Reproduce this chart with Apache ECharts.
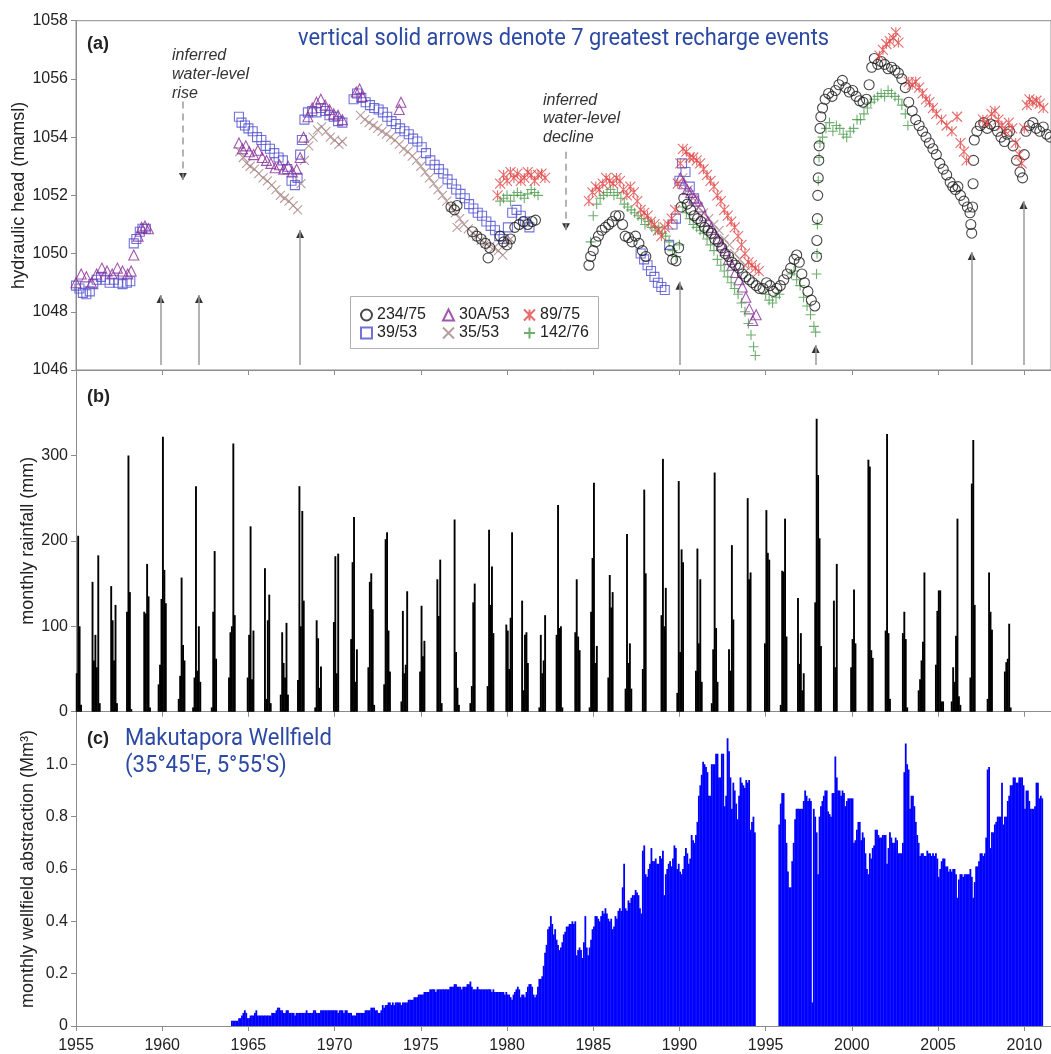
<!DOCTYPE html>
<html><head><meta charset="utf-8">
<script src="https://cdn.jsdelivr.net/npm/echarts@6/dist/echarts.min.js"></script>
<style>html,body{margin:0;padding:0;background:#fff}#c{width:1051px;height:1054px}</style>
</head><body><div id="c"></div>
<script>
// ---------- panel (a): hydraulic head (mamsl) ----------
const well39_53 = [
[1955.0,1048.9],[1955.2,1048.8],[1955.4,1048.65],[1955.6,1048.6],[1955.8,1048.7],[1956.0,1048.95],[1956.2,1049.1],[1956.45,1049.2],[1956.7,1049.1],[1956.95,1049.0],[1957.2,1049.1],[1957.45,1049.0],[1957.7,1048.95],[1957.95,1049.0],[1958.15,1049.05],[1958.35,1050.35],[1958.5,1050.5],[1958.7,1050.75],[1958.85,1050.85],[1959.05,1050.85],
[1964.45,1054.7],[1964.6,1054.5],[1964.8,1054.4],[1965.0,1054.3],[1965.25,1054.2],[1965.5,1054.0],[1965.75,1053.9],[1966.0,1053.7],[1966.25,1053.6],[1966.5,1053.45],[1966.75,1053.3],[1967.0,1053.2],[1967.25,1052.9],[1967.5,1052.5],[1967.7,1052.35],[1967.85,1052.6],[1968.0,1053.4],[1968.1,1053.9],[1968.25,1054.6],[1968.45,1054.85],[1968.7,1054.9],[1968.95,1054.85],[1969.2,1055.0],[1969.45,1054.9],[1969.7,1054.75],[1969.95,1054.7],[1970.2,1054.55],[1970.45,1054.5],
[1971.1,1055.3],[1971.3,1055.5],[1971.55,1055.35],[1971.8,1055.2],[1972.05,1055.1],[1972.3,1055.0],[1972.55,1054.95],[1972.8,1054.85],[1973.05,1054.7],[1973.3,1054.55],[1973.55,1054.45],[1973.8,1054.3],[1974.05,1054.2],[1974.3,1054.1],[1974.55,1053.95],[1974.8,1053.85],[1975.05,1053.65],[1975.3,1053.45],[1975.55,1053.2],[1975.8,1053.05],[1976.05,1052.9],[1976.3,1052.75],[1976.55,1052.55],[1976.8,1052.4],[1977.05,1052.2],[1977.3,1052.05],[1977.55,1051.9],[1977.8,1051.7],[1978.05,1051.55],[1978.3,1051.4],[1978.55,1051.3],[1978.8,1051.1],[1979.05,1050.95],[1979.3,1050.8],[1979.55,1050.6],[1979.8,1050.5],[1980.05,1050.9],[1980.3,1051.4],[1980.55,1051.5],[1980.8,1051.3],[1981.05,1051.1],[1981.3,1050.9],
[1987.75,1050.0],[1987.95,1049.8],[1988.15,1049.6],[1988.35,1049.4],[1988.55,1049.2],[1988.75,1049.0],[1988.95,1048.85],[1989.15,1048.75],[1989.4,1050.3],[1989.6,1051.0],[1989.8,1051.2],[1990.0,1052.5],[1990.15,1053.1],[1990.35,1052.8],[1990.6,1052.3],[1990.85,1051.9]
];
const well30A_53 = [
[1955.0,1049.0],[1955.3,1049.3],[1955.6,1049.2],[1955.9,1049.0],[1956.2,1049.3],[1956.5,1049.5],[1956.8,1049.4],[1957.1,1049.3],[1957.4,1049.5],[1957.7,1049.4],[1958.0,1049.3],[1958.2,1049.4],[1958.35,1049.95],[1958.6,1050.6],[1958.8,1050.9],[1959.0,1050.95],[1959.2,1050.85],
[1964.45,1053.8],[1964.65,1053.6],[1964.85,1053.7],[1965.05,1053.5],[1965.3,1053.4],[1965.55,1053.55],[1965.8,1053.3],[1966.05,1053.2],[1966.3,1053.1],[1966.55,1052.95],[1966.8,1053.05],[1967.05,1052.9],[1967.3,1053.0],[1967.55,1052.8],[1967.8,1052.9],[1968.0,1053.3],[1968.2,1054.0],[1968.45,1054.7],[1968.7,1055.0],[1968.95,1055.2],[1969.2,1055.3],[1969.45,1055.1],[1969.7,1054.95],[1969.95,1054.8],[1970.2,1054.75],[1970.45,1054.6],
[1971.25,1055.55],[1971.45,1055.65],[1971.6,1055.4],[1973.75,1054.95],[1973.85,1055.2],
[1990.05,1052.6],[1990.25,1052.4],[1990.45,1052.2],[1990.65,1052.1],[1990.85,1051.9],[1991.05,1051.8],[1991.25,1051.6],[1991.45,1051.3],[1991.65,1051.1],[1991.85,1050.9],[1992.05,1050.7],[1992.25,1050.5],[1992.45,1050.3],[1992.65,1050.1],[1992.85,1049.8],[1993.05,1049.6],[1993.25,1049.35],[1993.45,1049.1],[1993.65,1048.85],[1993.85,1048.5],[1994.05,1048.1],[1994.25,1047.7],[1994.45,1047.9]
];
const well35_53 = [
[1964.5,1053.5],[1964.7,1053.3],[1964.9,1053.1],[1965.1,1053.0],[1965.35,1052.9],[1965.6,1052.75],[1965.85,1052.6],[1966.1,1052.5],[1966.35,1052.35],[1966.6,1052.2],[1966.85,1052.0],[1967.1,1051.9],[1967.35,1051.8],[1967.6,1051.65],[1967.85,1051.5],[1968.05,1052.4],[1968.25,1053.2],[1968.5,1053.7],[1968.75,1054.0],[1969.0,1054.25],[1969.25,1054.35],[1969.5,1054.2],[1969.75,1054.0],[1970.0,1053.9],[1970.25,1053.75],[1970.45,1053.85],
[1971.5,1054.75],[1971.75,1054.6],[1972.0,1054.5],[1972.25,1054.4],[1972.5,1054.3],[1972.75,1054.2],[1973.0,1054.1],[1973.25,1054.0],[1973.5,1053.9],[1973.75,1053.75],[1974.0,1053.6],[1974.25,1053.5],[1974.5,1053.35],[1974.75,1053.2],[1975.0,1053.0],[1975.25,1052.8],[1975.5,1052.6],[1975.75,1052.4],[1976.0,1052.2],[1976.25,1052.0],[1976.5,1051.8],[1976.75,1051.6],[1977.0,1051.4],[1977.1,1050.9],[1977.25,1051.2],[1977.5,1051.0],[1977.75,1050.85],[1978.0,1050.7],[1978.25,1050.6],[1978.5,1050.45],[1978.75,1050.35],[1979.0,1050.25],[1979.25,1050.2],[1979.5,1050.1],[1979.75,1049.95],[1980.0,1050.3],[1980.2,1050.5],
[1990.2,1052.6],[1990.5,1052.2],[1990.8,1051.9],[1991.1,1051.6],[1991.4,1051.4],[1991.7,1051.2],[1992.0,1051.0],[1992.3,1050.8],[1992.6,1050.5],[1992.9,1050.3],[1993.2,1050.0],[1993.5,1049.8],[1993.8,1049.6]
];
const well234_75 = [
[1976.75,1051.6],[1976.95,1051.5],[1977.1,1051.65],[1978.0,1050.75],[1978.25,1050.6],[1978.5,1050.5],[1978.75,1050.35],[1978.9,1049.85],[1979.0,1050.2],[1979.6,1050.6],[1979.8,1050.4],[1980.0,1050.3],[1980.2,1050.5],[1980.45,1050.9],[1980.7,1051.0],[1980.95,1051.1],[1981.2,1051.0],[1981.45,1051.1],[1981.65,1051.15],
[1984.75,1049.6],[1984.85,1049.9],[1985.0,1050.1],[1985.15,1050.4],[1985.3,1050.6],[1985.5,1050.8],[1985.7,1050.9],[1985.9,1051.0],[1986.1,1051.1],[1986.3,1051.3],[1986.5,1051.3],[1986.7,1051.0],[1986.85,1050.6],[1987.05,1050.55],[1987.25,1050.4],[1987.45,1050.6],[1987.65,1050.35],[1987.85,1050.1],[1988.05,1049.9],[1989.45,1050.1],[1989.6,1049.8],[1989.8,1049.75],[1989.95,1050.2],[1990.1,1051.6],[1990.25,1051.9],[1990.45,1051.7],[1990.65,1051.5],[1990.85,1051.3],[1991.05,1051.2],[1991.25,1051.1],[1991.45,1050.9],[1991.65,1050.8],[1991.85,1050.7],[1992.05,1050.5],[1992.25,1050.4],[1992.45,1050.2],[1992.65,1050.0],[1992.85,1049.9],[1993.05,1049.7],[1993.25,1049.6],[1993.45,1049.5],[1993.65,1049.3],[1993.85,1049.2],[1994.05,1049.1],[1994.25,1049.0],[1994.45,1048.9],[1994.65,1048.8],[1994.85,1048.8],[1995.05,1049.0],[1995.25,1048.9],[1995.45,1048.7],[1995.65,1048.8],[1995.85,1048.9],[1996.05,1049.1],[1996.25,1049.3],[1996.45,1049.5],[1996.65,1049.8],[1996.8,1049.95],[1996.95,1049.7],[1997.1,1049.3],[1997.25,1049.0],[1997.45,1048.7],[1997.65,1048.4],[1997.85,1048.2],
[1997.95,1049.9],[1997.97,1050.45],[1998.0,1051.2],[1998.02,1052.0],[1998.05,1052.6],[1998.08,1053.2],[1998.1,1053.7],[1998.15,1054.3],[1998.2,1054.7],[1998.3,1055.0],[1998.45,1055.3],[1998.65,1055.5],[1998.85,1055.4],[1999.05,1055.6],[1999.25,1055.8],[1999.45,1055.95],[1999.65,1055.7],[1999.85,1055.55],[2000.05,1055.6],[2000.25,1055.4],[2000.45,1055.25],[2000.65,1055.2],[2000.85,1055.3],[2001.0,1055.8],[2001.15,1056.4],[2001.3,1056.7],[2001.5,1056.5],[2001.7,1056.6],[2001.9,1056.5],[2002.1,1056.35],[2002.3,1056.4],[2002.5,1056.3],[2002.7,1056.2],[2002.9,1056.0],[2003.1,1055.7],[2003.3,1055.2],[2003.5,1054.9],[2003.7,1054.6],[2003.9,1054.4],[2004.1,1054.2],[2004.3,1054.0],[2004.5,1053.8],[2004.7,1053.6],[2004.9,1053.4],[2005.1,1053.1],[2005.3,1052.9],[2005.5,1052.7],[2005.7,1052.45],[2005.85,1052.3],[2006.0,1052.2],[2006.15,1052.3],[2006.3,1052.0],[2006.5,1051.8],[2006.7,1051.6],[2006.85,1051.4],[2006.9,1051.0],[2006.95,1050.7],[2007.0,1051.6],[2007.03,1052.4],[2007.06,1053.2],[2007.1,1053.9],[2007.25,1054.2],[2007.45,1054.4],[2007.65,1054.5],[2007.85,1054.3],[2008.05,1054.45],[2008.25,1054.4],[2008.45,1054.2],[2008.65,1054.0],[2008.85,1053.85],[2009.0,1054.1],[2009.15,1054.2],[2009.35,1053.7],[2009.55,1053.2],[2009.75,1052.8],[2009.9,1052.6],[2010.0,1053.4],[2010.1,1054.2],[2010.3,1054.4],[2010.5,1054.5],[2010.7,1054.3],[2010.9,1054.2],[2011.1,1054.35],[2011.3,1054.1],[2011.5,1054.0]
];
const well89_75 = [
[1979.45,1052.0],[1979.6,1052.4],[1979.8,1052.7],[1980.0,1052.5],[1980.2,1052.8],[1980.4,1052.6],[1980.6,1052.75],[1980.8,1052.5],[1981.0,1052.6],[1981.2,1052.8],[1981.4,1052.7],[1981.6,1052.5],[1981.8,1052.7],[1982.0,1052.75],[1982.2,1052.6],
[1984.75,1051.8],[1984.95,1052.1],[1985.15,1052.3],[1985.35,1052.2],[1985.55,1052.4],[1985.75,1052.6],[1985.95,1052.5],[1986.15,1052.4],[1986.35,1052.6],[1986.55,1052.5],[1986.75,1052.2],[1986.95,1052.0],[1987.15,1052.3],[1987.35,1052.1],[1987.55,1051.8],[1987.75,1051.5],[1987.95,1051.4],[1988.15,1051.3],[1988.35,1051.1],[1988.55,1051.0],[1988.75,1050.8],[1988.95,1050.6],[1989.15,1050.9],[1989.35,1051.0],[1989.55,1051.2],[1989.75,1051.5],[1989.9,1052.4],[1990.05,1053.1],[1990.2,1053.6],[1990.4,1053.5],[1990.6,1053.3],[1990.8,1053.3],[1991.0,1053.2],[1991.2,1053.1],[1991.4,1052.9],[1991.6,1052.7],[1991.8,1052.5],[1992.0,1052.3],[1992.2,1052.0],[1992.4,1051.8],[1992.6,1051.5],[1992.8,1051.3],[1993.0,1051.1],[1993.2,1050.9],[1993.4,1050.6],[1993.6,1050.3],[1993.8,1050.0],[1994.0,1049.7],[1994.2,1049.6],[1994.4,1049.5],[1994.6,1049.4],
[2001.6,1056.8],[2001.8,1057.0],[2002.0,1057.2],[2002.2,1057.3],[2002.4,1057.4],[2002.55,1057.6],[2002.7,1057.25],[2003.3,1055.9],[2003.5,1055.8],[2003.7,1055.9],[2003.9,1055.7],[2004.1,1055.5],[2004.3,1055.3],[2004.5,1055.2],[2004.7,1055.0],[2004.9,1054.8],[2005.2,1054.6],[2005.5,1054.4],[2005.8,1054.2],[2006.1,1054.7],[2006.3,1053.8],[2006.5,1053.5],[2006.65,1053.2],[2007.6,1054.6],[2007.85,1054.5],[2008.1,1054.8],[2008.3,1054.9],[2008.5,1054.6],[2008.7,1054.4],[2008.9,1054.2],[2009.1,1054.5],[2009.3,1054.3],[2009.5,1053.8],[2009.7,1053.4],[2009.85,1053.1],[2010.0,1054.3],[2010.15,1055.1],[2010.3,1055.3],[2010.5,1055.2],[2010.7,1055.25],[2010.9,1055.15],[2011.1,1055.0]
];
const well142_76 = [
[1979.6,1051.8],[1979.8,1051.9],[1980.0,1052.0],[1980.2,1051.8],[1980.4,1052.0],[1980.6,1052.1],[1980.8,1052.0],[1981.0,1051.9],[1981.2,1052.05],[1981.4,1052.2],[1981.6,1052.1],[1981.8,1052.0],
[1984.85,1050.4],[1985.0,1051.3],[1985.2,1051.7],[1985.4,1051.9],[1985.6,1052.0],[1985.8,1052.1],[1986.0,1052.2],[1986.2,1052.0],[1986.4,1052.1],[1986.6,1051.9],[1986.8,1051.7],[1987.0,1051.6],[1987.2,1051.5],[1987.4,1051.4],[1987.6,1051.3],[1987.8,1051.2],[1988.0,1051.0],[1988.2,1051.1],[1988.4,1050.9],[1988.6,1050.8],[1988.8,1050.9],[1989.0,1050.7],[1989.2,1050.6],[1989.4,1050.4],[1989.6,1050.1],[1989.8,1049.9],[1990.0,1050.3],[1990.2,1051.6],[1990.4,1051.4],[1990.6,1051.2],[1990.8,1051.0],[1991.0,1050.9],[1991.2,1050.8],[1991.4,1050.7],[1991.6,1050.5],[1991.8,1050.3],[1992.0,1050.1],[1992.2,1049.8],[1992.4,1049.6],[1992.6,1049.4],[1992.8,1049.2],[1993.0,1049.0],[1993.2,1048.8],[1993.4,1048.6],[1993.6,1048.3],[1993.8,1048.0],[1994.0,1047.6],[1994.15,1047.2],[1994.3,1046.8],[1994.4,1046.5],[1995.0,1048.6],[1995.2,1048.4],[1995.4,1048.3],[1995.6,1048.5],[1995.8,1048.6],[1996.5,1049.3],[1996.65,1049.4],[1996.8,1049.1],[1997.0,1048.9],[1997.2,1048.5],[1997.4,1048.2],[1997.6,1047.9],[1997.8,1047.5],[1997.9,1047.3],
[1997.95,1049.3],[1997.98,1050.0],[1998.0,1051.0],[1998.05,1052.5],[1998.1,1053.3],[1998.15,1053.8],[1998.3,1054.0],[1998.5,1054.3],[1998.7,1054.5],[1998.9,1054.2],[1999.1,1054.4],[1999.3,1054.3],[1999.5,1054.1],[1999.7,1054.0],[1999.9,1054.2],[2000.1,1054.3],[2000.3,1054.6],[2000.5,1054.6],[2000.7,1054.8],[2000.9,1055.0],[2001.1,1055.2],[2001.3,1055.3],[2001.5,1055.4],[2001.7,1055.5],[2001.9,1055.4],[2002.1,1055.6],[2002.3,1055.5],[2002.5,1055.4],[2002.7,1055.3],[2002.9,1055.1],[2003.1,1054.8],[2003.25,1054.4]
];
// recharge-event arrows (year, head at arrow tip)
const solidArrowYear = [1959.9, 1962.13, 1968.0, 1990.0, 1997.9, 2006.95, 2009.95];
const solidArrowTip  = [1048.58, 1048.58, 1050.81, 1049.03, 1046.86, 1050.05, 1051.81];
const solidArrowBase = 1046.17;
const dashedArrowYear = [1961.2, 1983.42];
const dashedArrowFrom = [1055.22, 1053.5];
const dashedArrowTip  = [1052.53, 1050.8];

// ---------- panel (b): monthly rainfall (mm), wet seasons [startYear, startMonth, values...] ----------
const rainSeasons = [
[1955,1,[45,206,100,8]],[1955,12,[152,60,90,52,183,10]],[1957,1,[147,107,60,125,10]],[1957,12,[117,300,140,3]],
[1958,12,[117,115,173,135,5]],[1959,10,[32,55,132,322,166,127]],[1960,12,[15,42,157,78,60]],[1961,10,[5,40,264,48,100,35]],
[1962,11,[5,117,188,62]],[1963,11,[40,93,100,314,113]],[1964,12,[40,90,217,38,95]],[1965,12,[168,15,107,137,10]],
[1966,11,[20,93,57,40,104,20]],[1967,11,[37,264,100,235,130]],[1968,11,[5,107,86,28,53]],[1969,12,[105,182,45,185]],
[1970,12,[85,175,228,35,73]],[1971,12,[52,152,162,120,8]],[1972,11,[32,202,210,95,47]],[1973,11,[12,118,45,55,141]],
[1974,12,[47,124,65,83]],[1975,12,[155,112,178,10]],[1976,12,[225,70,28,8]],[1977,11,[10,30,128,150]],
[1978,11,[30,213,125,170,92]],[1979,12,[102,95,50,110,210]],[1980,11,[130,25,90,93,57]],[1981,11,[5,90,45,60,113]],
[1982,11,[90,242,98,100,5]],[1983,12,[93,155,88,72]],[1984,10,[5,117,180,268,57,77]],[1985,11,[40,160,122,140]],
[1986,11,[27,208,57,80,27]],[1987,11,[50,260,162]],[1988,12,[113,296,100,145]],[1989,11,[22,270,70,190,175]],
[1990,12,[48,191,80,155,35]],[1991,11,[10,73,280,98,35]],[1992,11,[73,48,195,108]],[1993,12,[250,155,163]],
[1994,12,[80,236,186,178]],[1995,11,[8,165,164,226,88]],[1996,11,[133,56,92,25,45]],[1997,11,[128,343,277,203,77]],
[1998,12,[130,52,173]],[1999,12,[52,85,143,80]],[2000,12,[295,287,72,63]],[2001,12,[95,325,92,15]],
[2002,12,[92,117,85,5]],[2003,11,[25,38,60,82,163]],[2004,11,[55,118,142,142,12,12]],[2005,10,[12,52,35,89,226,18,8]],
[2006,11,[40,267,318,125]],[2007,11,[15,163,117,96]],[2008,11,[47,58,62,103,5]]
];

// ---------- panel (c): monthly wellfield abstraction (hundredths of Mm3), Jan..Dec ----------
const abstractionStartYear = 1964;
const abstraction = [
[2,2,2,2,2,3,3,4,5,6,5,3],[3,4,4,4,5,6,4,4,4,4,4,4],[4,4,4,4,5,5,5,6,7,7,6,6],[5,5,6,6,5,5,5,5,4,5,5,5],
[5,5,5,5,6,5,5,5,5,6,6,5],[5,5,6,6,6,6,6,6,6,6,6,6],[6,6,5,6,6,6,5,6,6,5,5,5],[4,4,4,5,5,5,5,5,5,6,6,6],
[6,7,7,7,6,6,5,5,6,8,7,8],[8,9,9,8,9,8,9,9,9,9,8,9],[9,9,9,10,10,10,10,11,11,11,12,12],[12,12,13,13,13,13,14,14,14,14,13,14],
[14,14,14,14,14,14,14,14,15,15,15,16],[16,15,15,15,14,15,15,15,16,16,17,15],[14,14,14,15,14,14,14,14,14,14,14,14],[14,13,14,13,13,13,13,13,13,13,12,13],
[12,12,11,10,12,13,14,15,14,11,12,12],[11,13,15,16,16,15,12,11,12,15,18,18],[19,23,28,31,37,38,42,39,35,37,33,31],[29,30,32,35,36,38,38,39,39,40,39,40],
[27,29,30,29,26,32,42,30,27,30,33,37],[38,42,42,41,40,42,44,43,45,43,41,40],[41,37,38,42,41,44,45,44,53,62,45,44],[48,47,49,50,50,52,51,50,45,43,67,69],
[58,57,60,62,68,63,63,64,62,62,65,64],[67,50,58,60,62,63,61,64,69,68,60,62],[59,58,60,65,68,66,62,64,73,71,70,73],[78,88,92,96,101,100,99,97,88,88,100,100],
[100,104,104,95,95,104,104,84,88,110,105,95],[83,93,90,85,79,88,95,93,92,91,94,93],[94,75,78,80,74,null,null,null,null,null,null,null],[null,null,null,null,null,null,null,null,null,77,85,89],
[89,79,70,59,53,53,63,70,79,83,83,83],[83,83,86,90,88,86,87,86,9,83,80,74],[58,80,84,86,88,90,90,82,81,80,89,89],[103,95,90,90,88,90,89,84,86,87,87,87],
[87,70,71,75,78,78,71,74,72,66,60,58],[66,64,68,69,75,75,73,72,72,73,73,73],[62,68,74,72,70,70,72,71,66,66,66,70],[97,108,100,98,83,88,88,84,78,73,70,65],
[66,66,65,65,67,66,66,65,66,65,66,64],[57,60,63,64,64,61,61,59,60,59,60,60],[58,49,56,58,58,57,58,58,58,58,60,57],[49,55,61,61,63,66,66,65,66,72,98,99],
[68,74,74,77,78,80,80,80,93,77,80,80],[86,88,92,92,95,95,93,93,95,95,95,92],[83,90,90,86,83,83,83,84,93,93,87,88],[87]
];
const xTickYears = [1955,1960,1965,1970,1975,1980,1985,1990,1995,2000,2005,2010];

// ---------- build series data ----------
const rainData = [];
rainSeasons.forEach(([y, m, vals]) => {
  vals.forEach((v, i) => {
    const k = (m - 1) + i;
    const yr = y + Math.floor(k / 12), mo = k % 12;
    rainData.push([yr + (mo + 0.5) / 12, v]);
  });
});
const abstrData = [];
abstraction.forEach((row, yi) => {
  row.forEach((v, mi) => {
    if (v != null) abstrData.push([abstractionStartYear + yi + (mi + 0.5) / 12, v / 100]);
  });
});
const solidHeads = solidArrowYear.map((x, i) => [x, solidArrowTip[i]]);
const solidShafts = solidArrowYear.map((x, i) => [{coord: [x, solidArrowBase]}, {coord: [x, solidArrowTip[i]]}]);
const dashedHeads = dashedArrowYear.map((x, i) => [x, dashedArrowTip[i]]);
const dashedShafts = dashedArrowYear.map((x, i) => [{coord: [x, dashedArrowFrom[i]]}, {coord: [x, dashedArrowTip[i]]}]);

const AX = '#8c8c8c', TXT = '#222', FF = 'Liberation Sans, Arial, sans-serif';
const BLUE = '#2c4aa3';
const PX = 'path://M0,0L10,10M10,0L0,10';
const PPLUS = 'path://M5,0L5,10M0,5L10,5';
const PAST = 'path://M0,0L10,10M10,0L0,10M5,0L5,10';

function xAxisFor(idx, showLabels) {
  return {
    type: 'value', gridIndex: idx, min: 1955, max: 2011.55, interval: 5,
    axisLine: {show: true, lineStyle: {color: AX}},
    axisTick: {show: true, inside: false, length: 5, lineStyle: {color: AX}},
    axisLabel: {show: showLabels, color: TXT, fontSize: 16, fontFamily: FF, margin: 12,
      formatter: v => xTickYears.includes(v) ? String(v) : '' , showMaxLabel: false},
    splitLine: {show: false}
  };
}
function yAxisFor(idx, min, max, interval, name, gap, fmt) {
  return {type: 'value', gridIndex: idx, min, max, interval,
    name, nameLocation: 'middle', nameGap: gap, nameMoveOverlap: false,
    nameTextStyle: {fontSize: 18, fontFamily: FF, color: TXT},
    axisLine: {show: true, lineStyle: {color: AX}}, axisTick: {show: true, length: 5, lineStyle: {color: AX}},
    axisLabel: {color: TXT, fontSize: 16, fontFamily: FF, margin: 8, showMaxLabel: idx === 0, formatter: fmt},
    splitLine: {show: false}};
}
function scat(name, data, symbol, size, color) {
  return {
    name, type: 'scatter', xAxisIndex: 0, yAxisIndex: 0, data, symbol, symbolSize: size,
    symbolKeepAspect: true,
    itemStyle: {color: 'rgba(0,0,0,0)', borderColor: color, borderWidth: 1.1, opacity: 0.8},
    emphasis: {disabled: true}, silent: true
  };
}
const legendBase = {orient: 'vertical', top: 307, itemWidth: 11, itemHeight: 11, itemGap: 2, padding: 0,
  selectedMode: false, textStyle: {fontSize: 16, fontFamily: FF, color: TXT, lineHeight: 16}};

const chart = echarts.init(document.getElementById('c'), null, {renderer: 'canvas'});
chart.setOption({
  animation: false,
  backgroundColor: '#fff',
  grid: [
    {left: 76, right: 0, top: 20.7, height: 349.3, show: true, borderColor: AX, borderWidth: 1},
    {left: 76, right: 0, top: 370, height: 341.7},
    {left: 76, right: 0, top: 712, height: 317.3}
  ],
  xAxis: [xAxisFor(0, false), xAxisFor(1, false), xAxisFor(2, true)],
  yAxis: [
    yAxisFor(0, 1046, 1058, 2, 'hydraulic head (mamsl)', 48, v => String(v)),
    yAxisFor(1, 0, 400, 100, 'monthly rainfall (mm)', 39, v => String(v)),
    yAxisFor(2, 0, 1.2, 0.2, 'monthly wellfield abstraction (Mm³)', 39, v => v === 0 ? '0' : v.toFixed(1))
  ],
  legend: [
    Object.assign({}, legendBase, {left: 360, data: ['234/75', '39/53']}),
    Object.assign({}, legendBase, {left: 442, data: ['30A/53', '35/53']}),
    Object.assign({}, legendBase, {left: 523, data: ['89/75', '142/76']})
  ],
  graphic: [
    {type: 'rect', z: 3, shape: {x: 350.5, y: 296.5, width: 248, height: 52},
     style: {fill: '#fff', stroke: '#b0b0b0', lineWidth: 1}},
    {type: 'text', x: 87, y: 44, style: {text: '(a)', font: 'bold 18px ' + FF, fill: '#222', textVerticalAlign: 'middle'}},
    {type: 'text', x: 87, y: 397, style: {text: '(b)', font: 'bold 18px ' + FF, fill: '#222', textVerticalAlign: 'middle'}},
    {type: 'text', x: 87, y: 739, style: {text: '(c)', font: 'bold 18px ' + FF, fill: '#222', textVerticalAlign: 'middle'}},
    {type: 'text', x: 298, y: 39, scaleX: 0.95, style: {text: 'vertical solid arrows denote 7 greatest recharge events', font: '23px Roboto', fill: BLUE, textVerticalAlign: 'middle'}},
    {type: 'text', x: 125, y: 739, scaleX: 0.96, style: {text: 'Makutapora Wellfield', font: '23px Roboto', fill: BLUE, textVerticalAlign: 'middle'}},
    {type: 'text', x: 125, y: 766, scaleX: 0.96, style: {text: '(35°45′E, 5°55′S)', font: '23px Roboto', fill: BLUE, textVerticalAlign: 'middle'}},
    {type: 'text', x: 172, y: 46, style: {text: 'inferred\nwater-level\nrise', font: 'italic 16px ' + FF, fill: '#333', lineHeight: 19, textVerticalAlign: 'top'}},
    {type: 'text', x: 543, y: 91, style: {text: 'inferred\nwater-level\ndecline', font: 'italic 16px ' + FF, fill: '#333', lineHeight: 18.5, textVerticalAlign: 'top'}}
  ],
  series: [
    scat('39/53', well39_53, 'rect', 9, '#4f4fd0'),
    scat('35/53', well35_53, PX, 9, '#a88484'),
    scat('30A/53', well30A_53, 'triangle', 10, '#8a2d9a'),
    scat('142/76', well142_76, PPLUS, 10, '#4a9a4a'),
    scat('234/75', well234_75, 'circle', 10, '#1a1a1a'),
    scat('89/75', well89_75, PAST, 10, '#e04848'),
    {name: 'solid arrows', type: 'scatter', xAxisIndex: 0, yAxisIndex: 0, data: solidHeads,
     symbol: 'triangle', symbolSize: [8, 8], symbolOffset: [0, 4], itemStyle: {color: '#000'}, silent: true, z: 4,
     markLine: {silent: true, symbol: ['none', 'none'], label: {show: false},
       lineStyle: {color: '#9a9a9a', width: 1.5, type: 'solid'}, data: solidShafts}},
    {name: 'dashed arrows', type: 'scatter', xAxisIndex: 0, yAxisIndex: 0, data: dashedHeads,
     symbol: 'triangle', symbolRotate: 180, symbolSize: [8, 7], symbolOffset: [0, -3.5], itemStyle: {color: '#000'}, silent: true, z: 4,
     markLine: {silent: true, symbol: ['none', 'none'], label: {show: false},
       lineStyle: {color: '#9a9a9a', width: 1.5, type: [7, 5]}, data: dashedShafts}},
    {name: 'rainfall', type: 'bar', xAxisIndex: 1, yAxisIndex: 1, data: rainData, barWidth: 1.9,
     itemStyle: {color: '#000'}, silent: true},
    {name: 'abstraction', type: 'bar', xAxisIndex: 2, yAxisIndex: 2, data: abstrData, barWidth: 1.8,
     itemStyle: {color: '#0000ff'}, silent: true}
  ]
});
</script></body></html>
